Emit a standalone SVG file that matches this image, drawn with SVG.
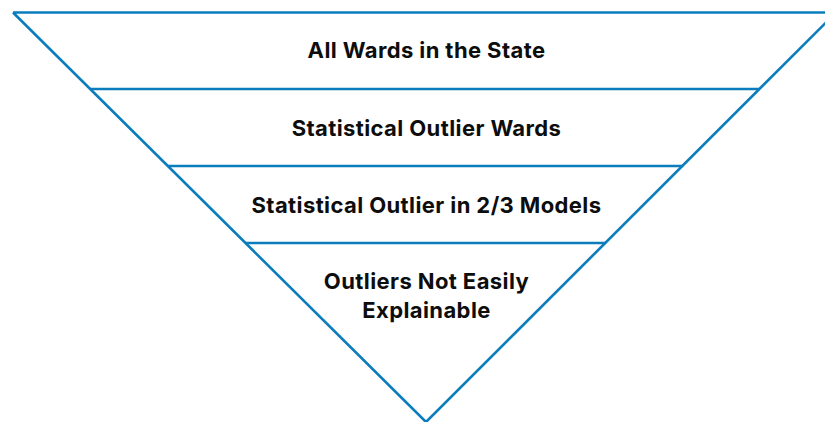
<svg xmlns="http://www.w3.org/2000/svg" width="825" height="422" viewBox="0 0 825 422">
<style>
.ln{stroke:#0b7dbd;stroke-width:2.6;fill:none;stroke-linecap:butt}
.t{font-family:Inter,"Liberation Sans",sans-serif;font-weight:700;font-size:22px;letter-spacing:0.4px;fill:#0d0d0d;text-anchor:middle}
</style>
<rect width="825" height="422" fill="#fff"/>
<g id="connectors">
<polyline class="ln" points="13,12.5 426,422 836,12.5 13,12.5"/>
<line class="ln" x1="90.5" y1="89" x2="759.5" y2="89"/>
<line class="ln" x1="168" y1="166" x2="682.5" y2="166"/>
<line class="ln" x1="245.5" y1="243" x2="605.5" y2="243"/>
</g>
<g id="level1"><text class="t" x="426.5" y="58">All Wards in the State</text></g>
<g id="level2"><text class="t" x="426.5" y="135.5">Statistical Outlier Wards</text></g>
<g id="level3"><text class="t" x="426.5" y="212.5">Statistical Outlier in 2/3 Models</text></g>
<g id="level4"><text class="t" x="426.5" y="289">Outliers Not Easily</text><text class="t" x="426.5" y="318">Explainable</text></g>
</svg>
